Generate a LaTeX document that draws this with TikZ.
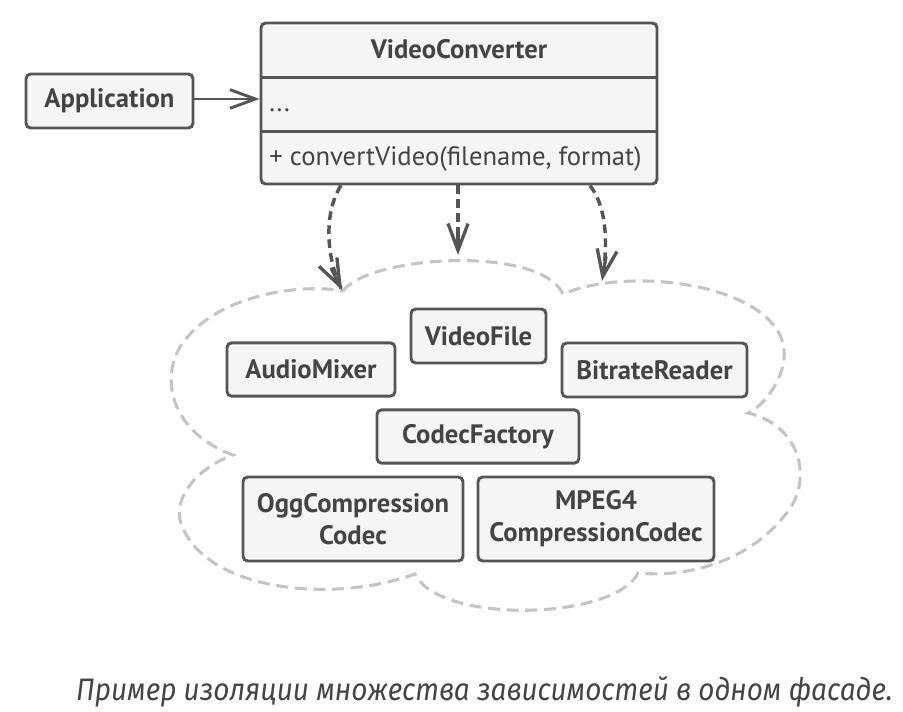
\documentclass[tikz,border=0pt]{standalone}
\usepackage{fontspec}
\setmainfont{PT Sans}
\newfontfamily\capfont[FakeStretch=0.9]{Fira Sans}
\usetikzlibrary{arrows.meta,calc}
\definecolor{boxline}{HTML}{555555}
\definecolor{boxfill}{HTML}{F5F5F5}
\definecolor{txt}{HTML}{444444}
\definecolor{cloudc}{HTML}{C4C4C4}
\tikzset{
  cls/.style={draw=boxline, fill=boxfill, line width=2.2pt, rounded corners=3.5pt,
    text=txt, font=\fontsize{20}{24}\selectfont\bfseries, align=center, inner sep=0pt},
  depline/.style={draw=boxline, line width=2.6pt, dash pattern=on 6.5pt off 4pt, shorten >=1.5pt},
  deptip/.style={draw=boxline, line width=2.5pt, solid,
    -{Straight Barb[length=20pt,width=15pt,line width=2.5pt]}},
  assoc/.style={draw=boxline, line width=2.2pt,
    -{Straight Barb[length=19pt,width=14pt,line width=2.2pt]}},
  cloudline/.style={draw=cloudc, line width=2.3pt, dash pattern=on 9pt off 5pt},
}
\begin{document}
\begin{tikzpicture}[x=0.75pt,y=-0.75pt]
\useasboundingbox (0,0) rectangle (903,712);
% cloud
\draw[cloudline] (343,291) .. controls (370,255) and (540,245) .. (563,294)
  .. controls (640,262) and (800,290) .. (783,365)
  .. controls (779,383) and (765,405) .. (748,413)
  .. controls (800,425) and (815,480) .. (785,515)
  .. controls (750,560) and (690,578) .. (638,573)
  .. controls (615,620) and (440,625) .. (415,574)
  .. controls (330,605) and (200,590) .. (180,520)
  .. controls (175,490) and (205,465) .. (233,455)
  .. controls (165,430) and (160,370) .. (185,340)
  .. controls (220,295) and (300,283) .. cycle;
% boxes
\node[cls, minimum width=125.25pt, minimum height=40.5pt] (app) at (109.5,101) {Application};
\node[cls, minimum width=297pt, minimum height=120.75pt] (vc) at (459,103.5) {};
\draw[draw=boxline, line width=2.2pt] (vc.west |- 0,77.5) -- (vc.east |- 0,77.5);
\draw[draw=boxline, line width=2.2pt] (vc.west |- 0,131.5) -- (vc.east |- 0,131.5);
\node[text=txt, font=\fontsize{20}{24}\selectfont\bfseries, inner sep=0pt, anchor=base] (vct) at (459,59) {VideoConverter};
\node[text=txt, font=\fontsize{20}{24}\selectfont, inner sep=0pt, anchor=base west] (vca) at (269,112) {...};
\node[text=txt, font=\fontsize{20}{24}\selectfont, inner sep=0pt, anchor=base west] (vcm) at (269,166) {+ convertVideo(filename, format)};
\node[cls, minimum width=101.25pt, minimum height=40.5pt] (vf) at (478.5,336) {VideoFile};
\node[cls, minimum width=126pt, minimum height=40pt] (am) at (311,369.5) {AudioMixer};
\node[cls, minimum width=138.75pt, minimum height=40.5pt] (br) at (654.5,370) {BitrateReader};
\node[cls, minimum width=151.5pt, minimum height=40pt] (cf) at (478,436.5) {CodecFactory};
\node[cls, minimum width=165pt, minimum height=63pt] (ogg) at (353,519) {OggCompression\\Codec};
\node[cls, minimum width=177pt, minimum height=63pt] (mp) at (596,519) {MPEG4\\CompressionCodec};
% cusp coordinates
\coordinate (t1) at (342,290);
\coordinate (t2) at (458,255);
\coordinate (t3) at (602,281);
% connectors
\draw[assoc] (app.east |- 0,99) -- (vc.west |- 0,99);
\draw[depline] ($(vc.south)+(-118,0)$) .. controls (322,215) and (328,262) .. (t1);
\draw[deptip] ($(t1)+(-11,-22)$) -- (t1);
\draw[depline] ($(vc.south)+(-1,0)$) -- (t2);
\draw[deptip] ($(t2)+(0,-25)$) -- (t2);
\draw[depline] ($(vc.south)+(131,0)$) .. controls (609,210) and (607,252) .. (t3);
\draw[deptip] ($(t3)+(4,-24.5)$) -- (t3);
% caption
\node[text=txt, font=\capfont\itshape\fontsize{23.3}{27}\selectfont, inner sep=0pt, anchor=base east] (cap) at (893,700) {Пример изоляции множества зависимостей в одном фасаде.};
\end{tikzpicture}
\end{document}
